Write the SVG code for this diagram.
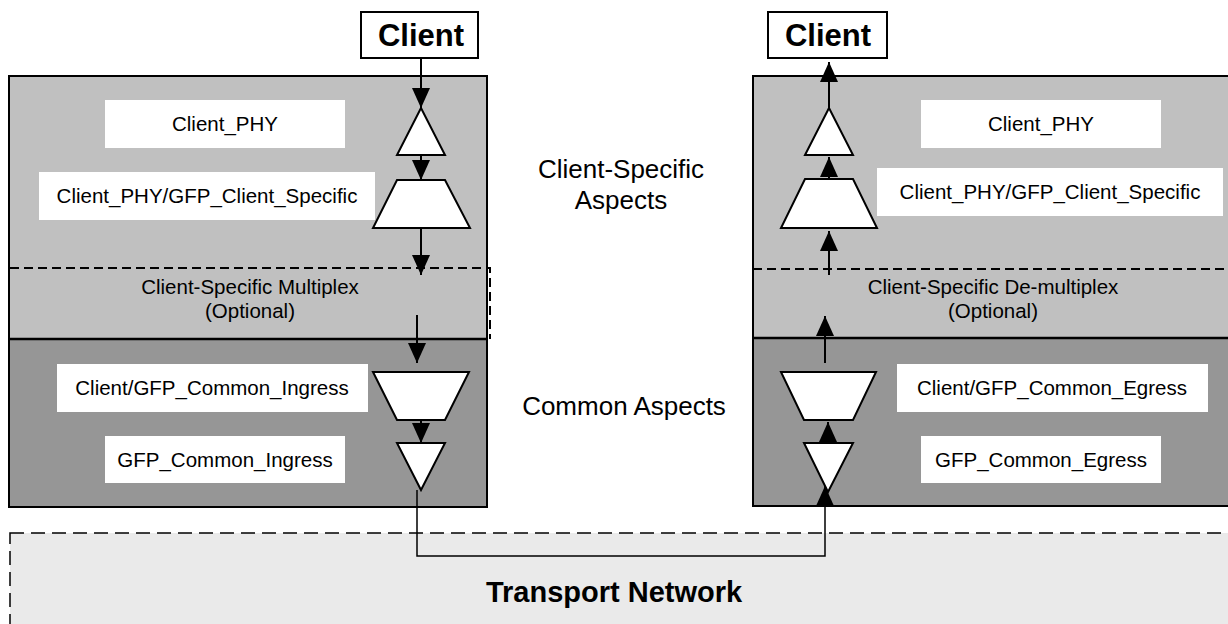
<svg xmlns="http://www.w3.org/2000/svg" width="1228" height="624" viewBox="0 0 1228 624">
  <style>
    .lbl { font-family: "Liberation Sans", Arial, sans-serif; font-size: 20.5px; fill: #000; text-anchor: middle; }
    .big { font-family: "Liberation Sans", Arial, sans-serif; font-size: 26px; fill: #000; text-anchor: middle; }
    .bold { font-family: "Liberation Sans", Arial, sans-serif; font-weight: bold; fill: #000; text-anchor: middle; }
    .wbox { fill: #fff; stroke: none; }
    .shape { fill: #fff; stroke: #000; stroke-width: 2; stroke-linejoin: miter; }
    .edge { fill: none; stroke: #000; stroke-width: 2; }
    .dash { fill: none; stroke: #000; stroke-width: 2; stroke-dasharray: 9 5; }
  </style>
  <defs>
    <marker id="ah" markerUnits="userSpaceOnUse" markerWidth="20" markerHeight="20" viewBox="0 0 20 18" refX="20" refY="9" orient="auto">
      <path d="M0,0 L20,9 L0,18 Z" fill="#000"/>
    </marker>
  </defs>

  <!-- transport network -->
  <g id="transport">
    <rect x="10" y="533" width="1240" height="120" fill="#eaeaea" stroke="#000" stroke-width="1.5" stroke-dasharray="14 7"/>
    <text class="bold" x="614" y="602" font-size="29">Transport Network</text>
  </g>

  <!-- source side -->
  <g id="source">
    <rect x="9" y="76" width="478" height="431" fill="#c0c0c0"/>
    <rect x="9" y="339" width="478" height="168" fill="#969696"/>
    <rect x="9" y="76" width="478" height="431" class="edge"/>
    <path d="M10,268 H490 V339" class="dash"/>
    <line x1="9" y1="339" x2="487" y2="339" stroke="#000" stroke-width="2.5"/>
  </g>

  <!-- sink side -->
  <g id="sink">
    <rect x="753" y="76" width="490" height="430" fill="#c0c0c0"/>
    <rect x="753" y="338" width="490" height="168" fill="#969696"/>
    <rect x="753" y="76" width="490" height="430" class="edge"/>
    <path d="M753,269 H1240" class="dash"/>
    <line x1="753" y1="338" x2="1240" y2="338" stroke="#000" stroke-width="2.5"/>
  </g>

  <!-- client boxes -->
  <g id="client-src">
    <rect x="361" y="12" width="117" height="46" fill="#fff" stroke="#000" stroke-width="2"/>
    <text class="bold" x="421" y="46" font-size="31">Client</text>
  </g>
  <g id="client-snk">
    <rect x="768" y="12" width="119" height="46" fill="#fff" stroke="#000" stroke-width="2"/>
    <text class="bold" x="828" y="46" font-size="31">Client</text>
  </g>

  <!-- source adaptation functions -->
  <g id="src-phy">
    <rect class="wbox" x="105" y="100" width="240" height="48"/>
    <text class="lbl" x="225" y="131">Client_PHY</text>
    <polygon class="shape" points="421,108 445,155 397,155"/>
  </g>
  <g id="src-specific">
    <rect class="wbox" x="39" y="172" width="336" height="48"/>
    <text class="lbl" x="207" y="203">Client_PHY/GFP_Client_Specific</text>
    <polygon class="shape" points="397,180 445,180 470,228 373,228"/>
  </g>
  <g id="src-mux">
    <text class="lbl" x="250" y="294">Client-Specific Multiplex</text>
    <text class="lbl" x="250" y="318">(Optional)</text>
  </g>
  <g id="src-common-adapt">
    <rect class="wbox" x="57" y="364" width="311" height="48"/>
    <text class="lbl" x="212" y="395">Client/GFP_Common_Ingress</text>
    <polygon class="shape" points="373,372 469,372 445,420 397,420"/>
  </g>
  <g id="src-common">
    <rect class="wbox" x="105" y="436" width="240" height="47"/>
    <text class="lbl" x="225" y="467">GFP_Common_Ingress</text>
    <polygon class="shape" points="397,443 445,443 421,490"/>
  </g>

  <!-- sink adaptation functions -->
  <g id="snk-phy">
    <rect class="wbox" x="921" y="100" width="240" height="48"/>
    <text class="lbl" x="1041" y="131">Client_PHY</text>
    <polygon class="shape" points="829,108 853,155 805,155"/>
  </g>
  <g id="snk-specific">
    <rect class="wbox" x="877" y="168" width="346" height="48"/>
    <text class="lbl" x="1050" y="199">Client_PHY/GFP_Client_Specific</text>
    <polygon class="shape" points="805,179 853,179 877,228 781,228"/>
  </g>
  <g id="snk-demux">
    <text class="lbl" x="993" y="294">Client-Specific De-multiplex</text>
    <text class="lbl" x="993" y="318">(Optional)</text>
  </g>
  <g id="snk-common-adapt">
    <rect class="wbox" x="897" y="364" width="311" height="48"/>
    <text class="lbl" x="1052" y="395">Client/GFP_Common_Egress</text>
    <polygon class="shape" points="781,372 876,372 853,420 804,420"/>
  </g>
  <g id="snk-common">
    <rect class="wbox" x="921" y="436" width="240" height="47"/>
    <text class="lbl" x="1041" y="467">GFP_Common_Egress</text>
    <polygon class="shape" points="804,443 853,443 828,492"/>
  </g>

  <!-- aspect captions -->
  <g id="captions">
    <text class="big" x="621" y="178">Client-Specific</text>
    <text class="big" x="621" y="209">Aspects</text>
    <text class="big" x="624" y="415">Common Aspects</text>
  </g>

  <!-- connectors -->
  <g id="connectors" class="edge">
    <line x1="421" y1="58" x2="421" y2="108" marker-end="url(#ah)"/>
    <line x1="421" y1="155" x2="421" y2="180" marker-end="url(#ah)"/>
    <line x1="421" y1="228" x2="421" y2="275" marker-end="url(#ah)"/>
    <line x1="417" y1="315" x2="417" y2="363" marker-end="url(#ah)"/>
    <line x1="421" y1="420" x2="421" y2="443" marker-end="url(#ah)"/>
    <path d="M417,490 V556 H825 V486" stroke-width="1.5" marker-end="url(#ah)"/>
    <line x1="828" y1="443" x2="828" y2="422" marker-end="url(#ah)"/>
    <line x1="825" y1="363" x2="825" y2="316" marker-end="url(#ah)"/>
    <line x1="829" y1="275" x2="829" y2="231" marker-end="url(#ah)"/>
    <line x1="829" y1="179" x2="829" y2="157" marker-end="url(#ah)"/>
    <line x1="829" y1="108" x2="829" y2="62" marker-end="url(#ah)"/>
  </g>
</svg>
